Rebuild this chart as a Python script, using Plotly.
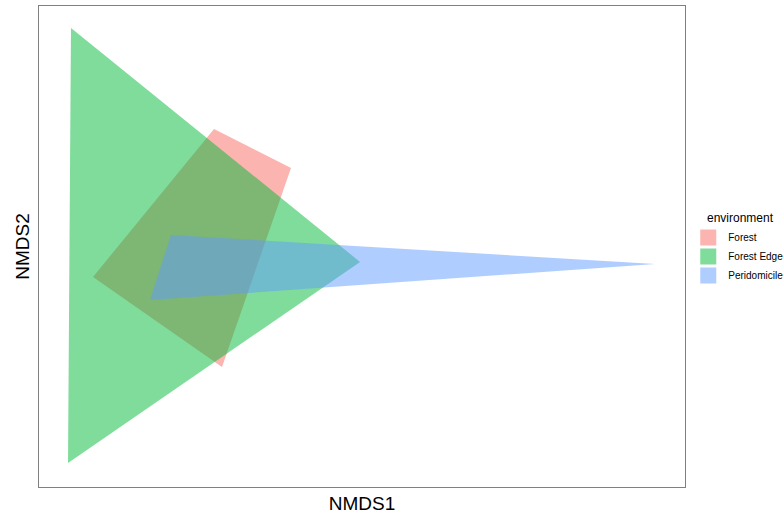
import plotly.graph_objects as go

groups = ["Forest", "Forest Edge", "Peridomicile"]
colors = ["rgba(248,118,109,0.55)", "rgba(0,186,56,0.5)", "rgba(97,156,255,0.5)"]

forest_x = [-0.0291, 0.0901, -0.0167, -0.2164]
forest_y = [0.171, 0.1143, -0.1753, -0.0443]

edge_x = [-0.2505, 0.197, -0.2551]
edge_y = [0.318, -0.0225, -0.315]

peri_x = [-0.0957, 0.6536, -0.1282]
peri_y = [0.0168, -0.0254, -0.0778]

fig = go.Figure()
for name, xs, ys, c in zip(groups, [forest_x, edge_x, peri_x], [forest_y, edge_y, peri_y], colors):
    fig.add_trace(go.Scatter(
        x=xs + [xs[0]], y=ys + [ys[0]], mode="lines", fill="toself",
        fillcolor=c, line=dict(width=0, color=c), name=name, hoverinfo="skip",
        showlegend=False))
for name, c in zip(groups, colors):
    fig.add_trace(go.Scatter(
        x=[None], y=[None], mode="markers", name=name,
        marker=dict(symbol="square", size=17, color=c, line=dict(width=0))))

axis_common = dict(showgrid=False, zeroline=False, showticklabels=False, ticks="",
                   showline=True, mirror=True, linecolor="#808080", linewidth=1.2,
                   automargin=False)
fig.update_layout(
    width=783, height=514,
    margin=dict(l=39, r=98, t=6, b=27),
    plot_bgcolor="white", paper_bgcolor="white",
    font=dict(family="Liberation Sans, Arial, sans-serif", color="black"),
    xaxis=dict(range=[-0.30, 0.70], title=dict(text="NMDS1", font=dict(size=19), standoff=10), **axis_common),
    yaxis=dict(range=[-0.35, 0.35], title=dict(text="NMDS2", font=dict(size=19), standoff=3), **axis_common),
    legend=dict(font=dict(size=10),
                xref="container", yref="container",
                x=0.8790, xanchor="left", y=0.5661, yanchor="top",
                bgcolor="rgba(0,0,0,0)", tracegroupgap=0, itemwidth=30),
    annotations=[dict(text="environment", xref="paper", yref="paper",
                      x=1.0310, y=0.5593, xanchor="left", yanchor="middle",
                      showarrow=False, font=dict(size=12))],
)
fig.write_html("out.html", config={"displayModeBar": False},
               post_script="document.body.style.margin='0px';document.body.style.overflow='hidden';")
